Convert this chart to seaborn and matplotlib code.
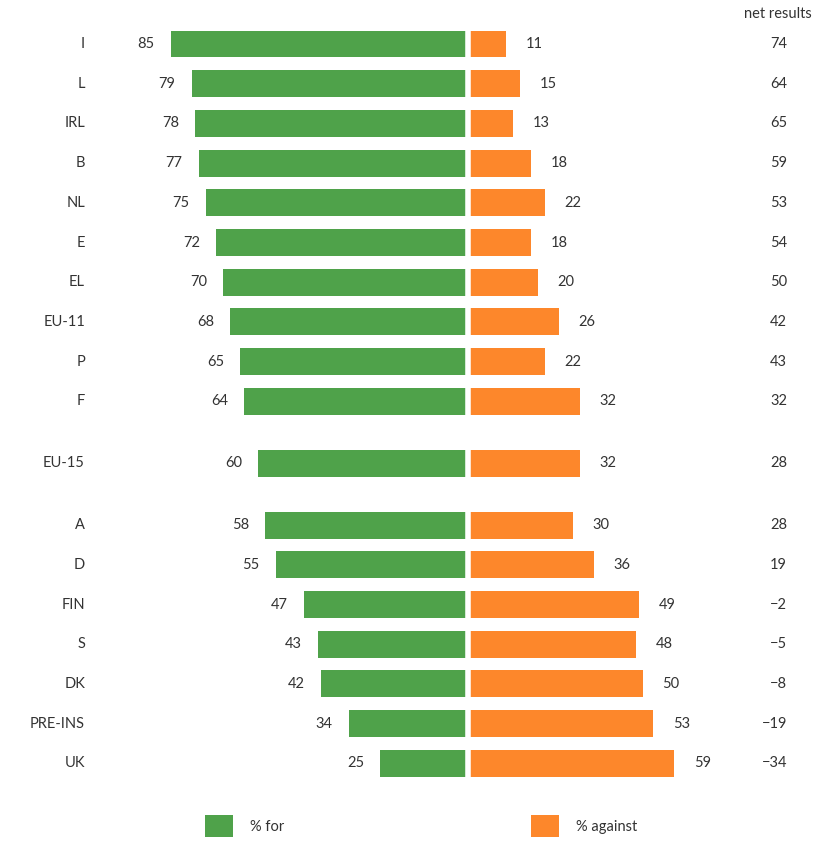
import matplotlib
matplotlib.use("Agg")
import matplotlib.pyplot as plt
import seaborn as sns
import pandas as pd
import numpy as np

countries = ["I", "L", "IRL", "B", "NL", "E", "EL", "EU-11", "P", "F",
             "EU-15", "A", "D", "FIN", "S", "DK", "PRE-INS", "UK"]
pct_for = [85, 79, 78, 77, 75, 72, 70, 68, 65, 64, 60, 58, 55, 47, 43, 42, 34, 25]
pct_against = [11, 15, 13, 18, 22, 18, 20, 26, 22, 32, 32, 30, 36, 49, 48, 50, 53, 59]
net_results = [74, 64, 65, 59, 53, 54, 50, 42, 43, 32, 28, 28, 19, -2, -5, -8, -19, -34]

GREEN = "#4fa24a"
ORANGE = "#fd872b"
TEXT = "#333333"

# row layout: gaps after F and after EU-15
gap = 0.56
ypos = []
for i, c in enumerate(countries):
    y = float(i)
    if i >= 10:
        y += gap
    if i >= 11:
        y += gap
    ypos.append(y)

df = pd.DataFrame({
    "country": countries * 2,
    "y": ypos * 2,
    "value": [-v for v in pct_for] + pct_against,
    "side": ["% for"] * len(countries) + ["% against"] * len(countries),
})

sns.set_theme(style="white")
plt.rcParams["font.family"] = ["Lato", "DejaVu Sans"]

W, H = 816, 846
fig = plt.figure(figsize=(W / 100, H / 100), dpi=100)
ax = fig.add_axes([0, 0, 1, 1])

sns.barplot(data=df, x="value", y="y", hue="side", orient="h", native_scale=True,
            dodge=False, palette={"% for": GREEN, "% against": ORANGE},
            width=0.68, ax=ax, linewidth=0, saturation=1)

cx = 468.0
sx = 3.5
row = 39.7
y0 = 44.0
ax.set_xlim(-cx / sx, (W - cx) / sx)
ax.set_ylim((H - y0) / row, -y0 / row)
ax.axvline(0, color="white", lw=4)
ax.set_axis_off()

fs = 10.5
def px2x(p):
    return (p - cx) / sx

for c, y, f, a, n in zip(countries, ypos, pct_for, pct_against, net_results):
    ax.text(px2x(85), y, c, ha="right", va="center", fontsize=fs, color=TEXT)
    ax.text(-f - 4.6, y, str(f), ha="right", va="center", fontsize=fs, color=TEXT)
    ax.text(a + 5.6, y, str(a), ha="left", va="center", fontsize=fs, color=TEXT)
    ns = str(n) if n >= 0 else "\u2212" + str(-n)
    ax.text(px2x(787), y, ns, ha="right", va="center", fontsize=fs, color=TEXT)

ax.text(px2x(812), -y0 / row + 14 / row, "net results", ha="right", va="center",
        fontsize=fs, color=TEXT)

handles, labels = ax.get_legend_handles_labels()
ax.legend(handles, labels, ncol=2, frameon=False, loc="center left",
          bbox_to_anchor=(192 / W, 1 - 826 / H), fontsize=fs,
          handlelength=1.9, handleheight=1.9, handletextpad=1.2,
          columnspacing=16.9, labelcolor=TEXT)

fig.savefig("out.png", dpi=100)
